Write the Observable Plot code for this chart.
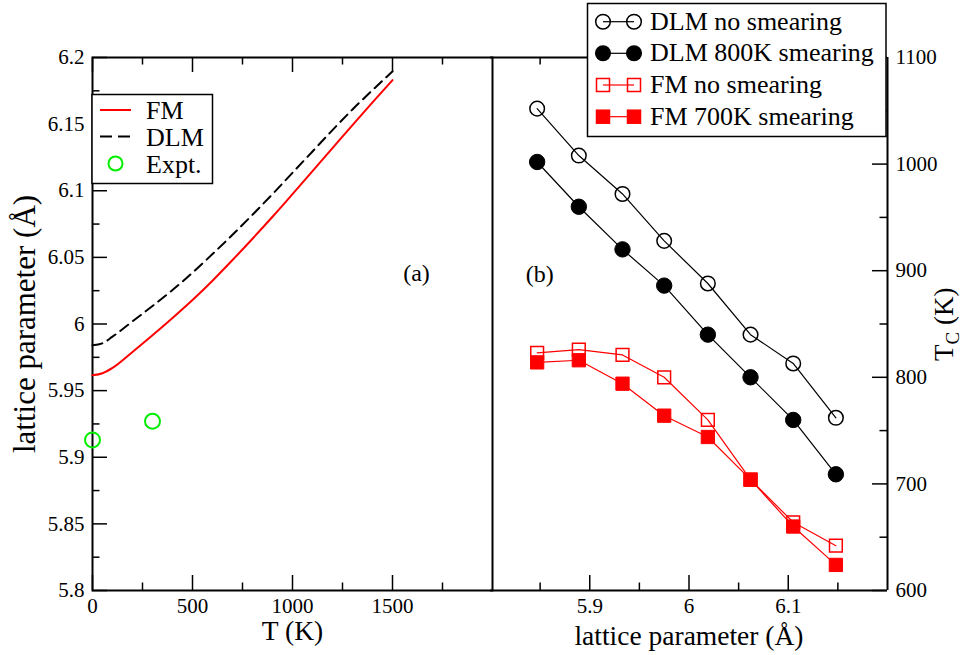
<!DOCTYPE html>
<html><head><meta charset="utf-8">
<script src="https://cdn.jsdelivr.net/npm/d3@7"></script>
<script src="https://cdn.jsdelivr.net/npm/@observablehq/plot@0.6"></script>
<style>
body{margin:0;background:#fff;}
#wrap{position:relative;width:961px;height:655px;overflow:hidden;font-family:"Liberation Serif","Times New Roman",Times,serif;background:#fff;}
#wrap svg{position:absolute;left:0;top:0;}
#wrap svg text{font-family:"Liberation Serif","Times New Roman",Times,serif;}
</style></head><body><div id="wrap"></div>
<script>
// ---- Panel (a): lattice parameter vs temperature ----
const tempK      = [0, 50, 100, 200, 300, 400, 500, 600, 700, 800, 900, 1000, 1100, 1200, 1300, 1400, 1500];
const fmLattice  = [5.9615, 5.963, 5.967, 5.979, 5.9915, 6.0045, 6.018, 6.0325, 6.048, 6.064, 6.0805, 6.0975, 6.1147, 6.132, 6.1493, 6.1663, 6.183];
const dlmLattice = [5.984, 5.9855, 5.9905, 6.002, 6.0135, 6.0255, 6.0385, 6.0525, 6.067, 6.082, 6.0975, 6.1135, 6.1295, 6.1455, 6.161, 6.1755, 6.1895];
const exptTemp    = [0, 300];
const exptLattice = [5.913, 5.927];
const legendA = ["FM", "DLM", "Expt."];

const xTicksA      = [0, 500, 1000, 1500];
const xTickLabelsA = ["0", "500", "1000", "1500"];
const xMinorA      = [250, 750, 1250, 1750];
const yTicksA      = [5.8, 5.85, 5.9, 5.95, 6, 6.05, 6.1, 6.15, 6.2];
const yTickLabelsA = ["5.8", "5.85", "5.9", "5.95", "6", "6.05", "6.1", "6.15", "6.2"];
const yMinorA      = [5.825, 5.875, 5.925, 5.975, 6.025, 6.075, 6.125, 6.175];

// ---- Panel (b): Tc vs lattice parameter ----
const latticeB = [5.847, 5.889, 5.933, 5.975, 6.019, 6.062, 6.105, 6.148];
const tcDlmNo  = [1052, 1008, 972, 928, 888, 840, 813, 762];
const tcDlm800 = [1002, 960, 920, 886, 840, 800, 760, 709];
const tcFmNo   = [823, 826, 821, 800, 760, 704, 664, 642];
const tcFm700  = [814, 816, 794, 764, 744, 704, 660, 624];
const seriesB  = ["DLM no smearing", "DLM 800K smearing", "FM no smearing", "FM 700K smearing"];

const xTicksB      = [5.9, 6, 6.1];
const xTickLabelsB = ["5.9", "6", "6.1"];
const xMinorB      = [5.85, 5.95, 6.05, 6.15];
const yTicksB      = [600, 700, 800, 900, 1000, 1100];
const yTickLabelsB = ["600", "700", "800", "900", "1000", "1100"];
const yMinorB      = [650, 750, 850, 950, 1050];

const xLabelA = "T (K)";
const yLabelA = "lattice parameter (Å)";
const xLabelB = "lattice parameter (Å)";
const yLabelB = "T_C (K)";
const panelA = "(a)", panelB = "(b)";

// ---- layout ----
const W = 961, H = 655, MT = 57, MB = 65;
const FH = H - MT - MB;
const A_ML = 92, A_MR = 469;           // frame 92..492
const B_ML = 490, B_MR = 74;           // frame 490..887
const FWA = W - A_ML - A_MR, FWB = W - B_ML - B_MR;
const MAJ = 15, MIN = 7.5;
const FONT = '"Liberation Serif", "Times New Roman", Times, serif';

const rowsFM  = tempK.map((t, i) => ({T: t, a: fmLattice[i]}));
const rowsDLM = tempK.map((t, i) => ({T: t, a: dlmLattice[i]}));
const rowsExp = exptTemp.map((t, i) => ({T: t, a: exptLattice[i]}));

const plotA = Plot.plot({
  width: W, height: H,
  marginTop: MT, marginBottom: MB, marginLeft: A_ML, marginRight: A_MR,
  x: {domain: [0, 2000]},
  y: {domain: [5.8, 6.2]},
  style: {background: "transparent", fontFamily: FONT, overflow: "visible"},
  marks: [
    Plot.ruleX(xTicksA, {insetTop: FH - MAJ, stroke: "black", strokeWidth: 1.5}),
    Plot.ruleX(xMinorA, {insetTop: FH - MIN, stroke: "black", strokeWidth: 1.5}),
    Plot.ruleX(xTicksA, {insetBottom: FH - MAJ, stroke: "black", strokeWidth: 1.5}),
    Plot.ruleX(xMinorA, {insetBottom: FH - MIN, stroke: "black", strokeWidth: 1.5}),
    Plot.ruleY(yTicksA, {insetRight: FWA - MAJ, stroke: "black", strokeWidth: 1.5}),
    Plot.ruleY(yMinorA, {insetRight: FWA - MIN, stroke: "black", strokeWidth: 1.5}),
    Plot.frame({stroke: "black", strokeWidth: 2}),
    Plot.axisX(xTicksA, {tickSize: 0, tickPadding: 8, fontSize: 21, label: null,
      tickFormat: d => xTickLabelsA[xTicksA.indexOf(d)]}),
    Plot.axisY(yTicksA, {tickSize: 0, tickPadding: 8, fontSize: 21, label: null,
      tickFormat: d => yTickLabelsA[yTicksA.indexOf(d)]}),
    Plot.line(rowsDLM, {x: "T", y: "a", stroke: "black", strokeWidth: 2, strokeDasharray: "10,6", curve: "monotone-x"}),
    Plot.line(rowsFM, {x: "T", y: "a", stroke: "#ff0000", strokeWidth: 2, curve: "monotone-x"}),
    Plot.dot(rowsExp, {x: "T", y: "a", r: 7.5, stroke: "#00ee00", strokeWidth: 2, fill: "none"}),
    Plot.text([xLabelA], {frameAnchor: "bottom", dy: 41, lineAnchor: "middle", textAnchor: "middle", fontSize: 27.5, fill: "black"}),
    Plot.text([yLabelA], {frameAnchor: "left", dx: -67, rotate: -90, lineAnchor: "middle", textAnchor: "middle", fontSize: 31, fill: "black"}),
    Plot.text([panelA], {x: () => 1620, y: () => 6.0378, fontSize: 24, fill: "black"})
  ]
});

const rowsB = [];
[tcDlmNo, tcDlm800, tcFmNo, tcFm700].forEach((arr, s) => {
  arr.forEach((v, i) => rowsB.push({series: seriesB[s], a: latticeB[i], tc: v}));
});
const sel = s => rowsB.filter(d => d.series === s);

const plotB = Plot.plot({
  width: W, height: H,
  marginTop: MT, marginBottom: MB, marginLeft: B_ML, marginRight: B_MR,
  x: {domain: [5.8, 6.2]},
  y: {domain: [600, 1100]},
  color: {domain: seriesB, range: ["black", "black", "#ff0000", "#ff0000"]},
  style: {background: "transparent", fontFamily: FONT, overflow: "visible"},
  marks: [
    Plot.ruleX(xTicksB, {insetTop: FH - MAJ, stroke: "black", strokeWidth: 1.5}),
    Plot.ruleX(xMinorB, {insetTop: FH - MIN, stroke: "black", strokeWidth: 1.5}),
    Plot.ruleX(xTicksB, {insetBottom: FH - MAJ, stroke: "black", strokeWidth: 1.5}),
    Plot.ruleX(xMinorB, {insetBottom: FH - MIN, stroke: "black", strokeWidth: 1.5}),
    Plot.ruleY(yTicksB, {insetLeft: FWB - MAJ, stroke: "black", strokeWidth: 1.5}),
    Plot.ruleY(yMinorB, {insetLeft: FWB - MIN, stroke: "black", strokeWidth: 1.5}),
    Plot.ruleY([600, 1100], {stroke: "black", strokeWidth: 2}),
    Plot.ruleX([6.2], {stroke: "black", strokeWidth: 2}),
    Plot.axisX(xTicksB, {tickSize: 0, tickPadding: 8, fontSize: 21, label: null,
      tickFormat: d => xTickLabelsB[xTicksB.indexOf(d)]}),
    Plot.axisY(yTicksB, {anchor: "right", tickSize: 0, tickPadding: 8, fontSize: 21, label: null,
      tickFormat: d => yTickLabelsB[yTicksB.indexOf(d)]}),
    Plot.line(rowsB, {x: "a", y: "tc", z: "series", stroke: "series", strokeWidth: 1.2}),
    Plot.dot(sel(seriesB[0]), {x: "a", y: "tc", r: 7.3, stroke: "black", strokeWidth: 1.5, fill: "none"}),
    Plot.dot(sel(seriesB[1]), {x: "a", y: "tc", r: 7.7, stroke: "black", strokeWidth: 1, fill: "black"}),
    Plot.dot(sel(seriesB[2]), {x: "a", y: "tc", r: 7.2, symbol: "square", stroke: "#ff0000", strokeWidth: 1.5, fill: "none"}),
    Plot.dot(sel(seriesB[3]), {x: "a", y: "tc", r: 7.5, symbol: "square", stroke: "#ff0000", strokeWidth: 1, fill: "#ff0000"}),
    Plot.text([xLabelB], {frameAnchor: "bottom", dy: 46, lineAnchor: "middle", textAnchor: "middle", fontSize: 27.5, fill: "black"}),
    Plot.text([yLabelB], {frameAnchor: "right", dx: 57, dy: 37, rotate: -90, lineAnchor: "middle", textAnchor: "start", fontSize: 27, fill: "black"}),
    Plot.text([panelB], {x: () => 5.8495, y: () => 897, fontSize: 24, fill: "black"})
  ]
});

const wrap = document.getElementById("wrap");
wrap.appendChild(plotA);
wrap.appendChild(plotB);

// subscript C in T_C label
d3.select(plotB).selectAll("text").filter(function () { return this.textContent === yLabelB; })
  .each(function () {
    const t = d3.select(this);
    t.attr("text-anchor", "start");
    t.text(null);
    t.append("tspan").text("T");
    t.append("tspan").attr("dy", 6).attr("font-size", 19).text("C");
    t.append("tspan").attr("dy", -6).text(" (K)");
  });

// ---- legends ----
const leg = d3.select(wrap).append("svg").attr("width", W).attr("height", H)
  .style("font-family", FONT);

// Legend (a)
const ga = leg.append("g");
ga.append("rect").attr("x", 92).attr("y", 94.5).attr("width", 120.5).attr("height", 89)
  .attr("fill", "white").attr("stroke", "black").attr("stroke-width", 1.5);
const aY = [110, 136.5, 163.5];
ga.append("line").attr("x1", 100).attr("x2", 131).attr("y1", aY[0]).attr("y2", aY[0])
  .attr("stroke", "#ff0000").attr("stroke-width", 2);
ga.append("line").attr("x1", 100).attr("x2", 131).attr("y1", aY[1]).attr("y2", aY[1])
  .attr("stroke", "black").attr("stroke-width", 2).attr("stroke-dasharray", "12,6");
ga.append("circle").attr("cx", 115.5).attr("cy", aY[2]).attr("r", 7)
  .attr("fill", "none").attr("stroke", "#00ee00").attr("stroke-width", 2);
legendA.forEach((s, i) => {
  ga.append("text").attr("x", 146).attr("y", aY[i] + 9).attr("font-size", 26).attr("fill", "black").text(s);
});

// Legend (b)
const gb = leg.append("g");
gb.append("rect").attr("x", 587.5).attr("y", 3.5).attr("width", 298.5).attr("height", 133)
  .attr("fill", "white").attr("stroke", "black").attr("stroke-width", 1.5);
const bY = [21.7, 53.3, 85, 116.7];
const bCol = ["black", "black", "#ff0000", "#ff0000"];
seriesB.forEach((s, i) => {
  const y = bY[i];
  gb.append("line").attr("x1", 603).attr("x2", 634).attr("y1", y).attr("y2", y)
    .attr("stroke", bCol[i]).attr("stroke-width", 1.2);
  [603, 634].forEach(cx => {
    if (i < 2) {
      gb.append("circle").attr("cx", cx).attr("cy", y).attr("r", 7.3)
        .attr("fill", i === 1 ? "black" : "none").attr("stroke", "black").attr("stroke-width", 1.5);
    } else {
      gb.append("rect").attr("x", cx - 6.5).attr("y", y - 6.5).attr("width", 13).attr("height", 13)
        .attr("fill", i === 3 ? "#ff0000" : "none").attr("stroke", "#ff0000").attr("stroke-width", 1.5);
    }
  });
  gb.append("text").attr("x", 650).attr("y", y + 8).attr("font-size", 26).attr("fill", "black").text(s);
});
</script>
</body></html>
